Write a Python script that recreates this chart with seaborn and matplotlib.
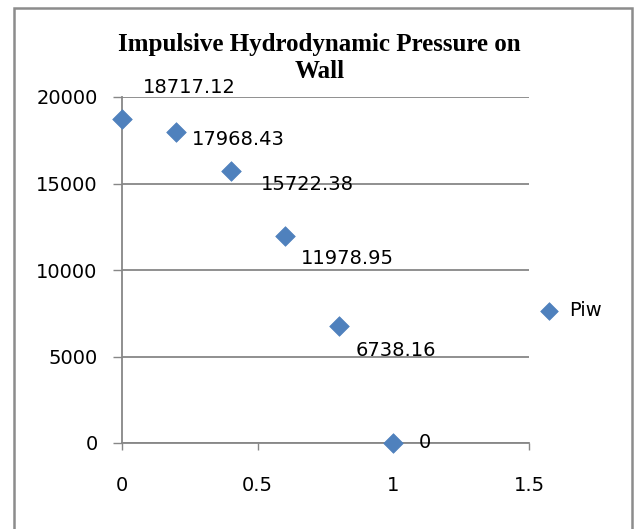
import numpy as np
import pandas as pd
import matplotlib
matplotlib.use("Agg")
import matplotlib.pyplot as plt
import seaborn as sns
from matplotlib.patches import Rectangle

sns.set_style("white")
plt.rcParams["font.family"] = ["DejaVu Sans"]
plt.rcParams["text.color"] = "black"
plt.rcParams["xtick.color"] = "black"
plt.rcParams["ytick.color"] = "black"

# --------------------------------------------------
# data
# --------------------------------------------------
depth_ratio = [0, 0.2, 0.4, 0.6, 0.8, 1.0]
piw = [18717.12, 17968.43, 15722.38, 11978.95, 6738.16, 0]
point_labels = ["18717.12", "17968.43", "15722.38", "11978.95", "6738.16", "0"]
x_ticks = [0, 0.5, 1, 1.5]
x_tick_labels = ["0", "0.5", "1", "1.5"]
y_ticks = [0, 5000, 10000, 15000, 20000]
y_tick_labels = ["0", "5000", "10000", "15000", "20000"]
title_lines = ["Impulsive Hydrodynamic Pressure on", "Wall"]

# label offsets in pixels (dx, dy), roughly how excel placed them
label_offsets = [(21, 32), (16, -7), (30, -13), (16, -23), (17, -24), (25, 0)]

df = pd.DataFrame({"x": depth_ratio, "Piw": piw})

blue = "#4F81BD"
grid_col = "#878787"

fig = plt.figure(figsize=(6.39, 5.29), dpi=100)
ax = fig.add_axes([122 / 639, 1 - 443 / 529, 407 / 639, 346 / 529])

sns.scatterplot(data=df, x="x", y="Piw", marker="D", s=100, color=blue,
                edgecolor=blue, linewidth=0.5, label="Piw", ax=ax, zorder=5,
                clip_on=False)

for xv, yv, txt, (dx, dy) in zip(depth_ratio, piw, point_labels, label_offsets):
    ax.annotate(txt, (xv, yv), xytext=(dx, dy), textcoords="offset pixels",
                ha="left", va="center", fontsize=14, color="black", zorder=6)

ax.set_xlim(0, 1.5)
ax.set_ylim(0, 20000)
ax.set_xticks(x_ticks)
ax.set_xticklabels(x_tick_labels)
ax.set_yticks(y_ticks)
ax.set_yticklabels(y_tick_labels)
ax.set_xlabel("")
ax.set_ylabel("")

ax.yaxis.grid(True, color=grid_col, linewidth=1.3)
ax.xaxis.grid(False)
ax.set_axisbelow(True)

for side in ["top", "right"]:
    ax.spines[side].set_visible(False)
for side in ["left", "bottom"]:
    ax.spines[side].set_color(grid_col)
    ax.spines[side].set_linewidth(1.3)

ax.tick_params(axis="y", direction="out", length=6.5, width=1.0, color=grid_col,
               pad=11, labelsize=14, left=True, labelcolor="black")
ax.tick_params(axis="x", direction="out", length=5, width=1.0, color=grid_col,
               pad=19, labelsize=14, bottom=True, labelcolor="black")

leg = ax.legend(loc="center left", bbox_to_anchor=(522 / 639, 1 - 311 / 529),
                bbox_transform=fig.transFigure, frameon=False, fontsize=14,
                handletextpad=0.0, markerscale=0.9, borderaxespad=0)

# two-line title, each line placed on its own so the boxes stay tight
for line, ypix in zip(title_lines, [45, 72]):
    fig.text(0.5, 1 - ypix / 529, line, ha="center", va="center", fontsize=18,
             fontweight="bold", family="Liberation Serif", color="black")

# outer chart border
fig.patches.append(Rectangle((14 / 639, -0.05), 618 / 639, 1 - 8 / 529 + 0.05,
                             transform=fig.transFigure, fill=False,
                             edgecolor="#8c8c8c", linewidth=1.8))

fig.savefig("out.png", dpi=100)
